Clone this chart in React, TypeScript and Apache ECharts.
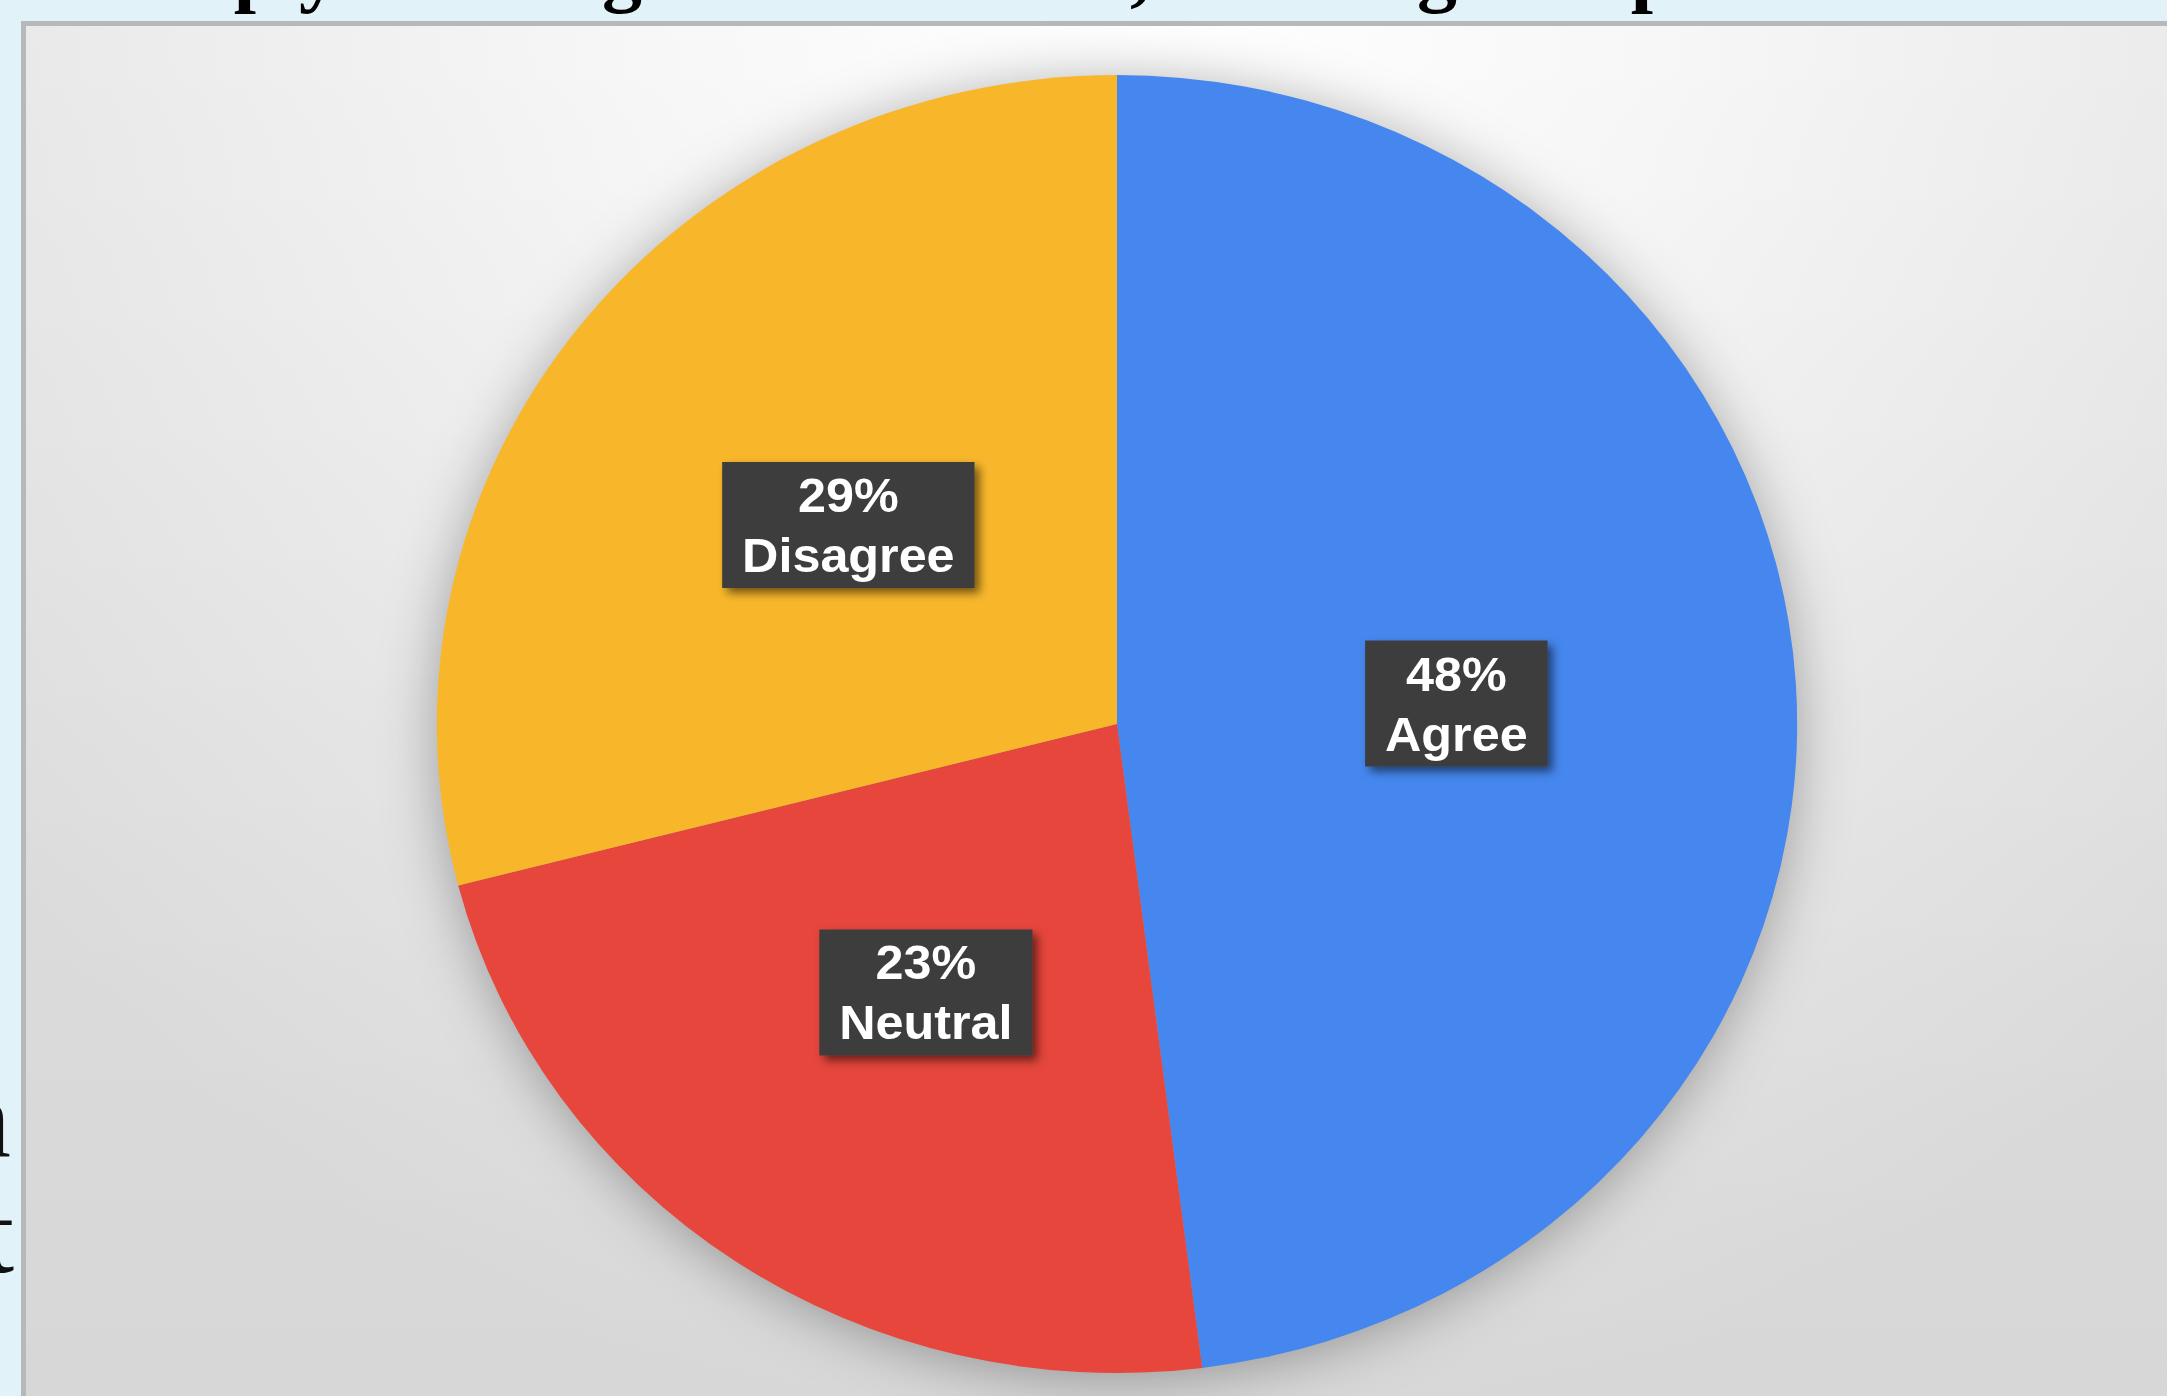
import React, { useEffect, useRef } from 'react';
import * as echarts from 'echarts';

// ---- data ----
const categories: string[] = ['Agree', 'Neutral', 'Disagree'];
const shares: number[] = [48, 23, 29];
const sliceColors: string[] = ['#4587EE', '#E6463B', '#F8B72B'];
// fragments of the slide text that peek out around the chart picture
const titleGlyphs: string[] = ['p', 'y', 'g', ',', 'g', 'p'];
const sideGlyphs: string[] = ['n', 't'];

// ---- layout ----
const W = 2167;
const H = 1396;
const CX = 1117;
const CY = 724;
const RY = 649;
const RX = 680;
const titleGlyphX = [256, 319, 622, 1140, 1437, 1653];
const sideGlyphPos = [
  { x: 11, y: 1119 },
  { x: 14, y: 1234 },
];

export default function App() {
  const ref = useRef<HTMLDivElement>(null);

  useEffect(() => {
    const el = ref.current;
    if (!el) return;
    const chart = echarts.init(el, undefined, { renderer: 'svg' });

    const total = shares.reduce((a, b) => a + b, 0);
    const starts: number[] = [];
    let acc = 0;
    shares.forEach((v) => {
      starts.push(acc);
      acc += v;
    });

    const graphicElements: any[] = [];
    // frame of the pasted chart picture
    graphicElements.push({
      type: 'rect',
      shape: { x: 21, y: 21, width: W, height: H },
      style: { fill: '#B5B9BA' },
    });
    graphicElements.push({
      type: 'rect',
      shape: { x: 26, y: 26, width: W, height: H },
      style: {
        fill: new echarts.graphic.RadialGradient(
          1150,
          0,
          1450,
          [
            { offset: 0, color: '#FFFFFF' },
            { offset: 0.35, color: '#F7F7F7' },
            { offset: 1, color: '#E2E2E2' },
          ],
          true
        ),
      },
    });
    graphicElements.push({
      type: 'rect',
      shape: { x: 26, y: 26, width: W, height: H },
      style: {
        fill: new echarts.graphic.LinearGradient(0, 0, 0, 1, [
          { offset: 0, color: 'rgba(0,0,0,0)' },
          { offset: 1, color: 'rgba(0,0,0,0.05)' },
        ]),
      },
    });
    titleGlyphs.forEach((g, i) => {
      graphicElements.push({
        type: 'text',
        x: titleGlyphX[i],
        y: -30,
        style: {
          text: g,
          font: 'bold 80px "Liberation Serif"',
          fill: '#000000',
          align: 'center',
          verticalAlign: 'middle',
          lineHeight: 60,
        },
      });
    });
    sideGlyphs.forEach((g, i) => {
      graphicElements.push({
        type: 'text',
        x: sideGlyphPos[i].x,
        y: sideGlyphPos[i].y,
        style: {
          text: g,
          font: '112px "Liberation Serif"',
          fill: '#111111',
          align: 'right',
          verticalAlign: 'middle',
          lineHeight: 100,
        },
      });
    });

    const option: any = {
      animation: false,
      backgroundColor: '#E1F3F8',
      graphic: { elements: graphicElements },
      series: [
        {
          type: 'custom',
          coordinateSystem: 'none',
          z: 5,
          data: categories.map((c, i) => ({ name: c, value: [shares[i], starts[i]] })),
          renderItem: (params: any, api: any) => {
            const i = params.dataIndex;
            const value = api.value(0) as number;
            const start = api.value(1) as number;
            const a0 = -Math.PI / 2 + (2 * Math.PI * start) / total;
            const a1 = -Math.PI / 2 + (2 * Math.PI * (start + value)) / total;
            const mid = (a0 + a1) / 2;
            const children: any[] = [];
            if (i === 0) {
              children.push({
                type: 'circle',
                z2: -5,
                shape: { cx: 0, cy: 0, r: RY - 3 },
                style: {
                  fill: '#9a9a9a',
                  shadowBlur: 60,
                  shadowColor: 'rgba(0,0,0,0.35)',
                  shadowOffsetX: 0,
                  shadowOffsetY: 6,
                },
              });
            }
            children.push({
              type: 'sector',
              z2: 1,
              shape: {
                cx: 0,
                cy: 0,
                r0: 0,
                r: RY,
                startAngle: a0,
                endAngle: a1,
                clockwise: true,
              },
              style: { fill: sliceColors[i] },
            });
            children.push({
              type: 'text',
              z2: 20,
              x: Math.cos(mid) * RY * 0.5,
              y: Math.sin(mid) * RY * 0.5,
              style: {
                text: `${value}%\n${categories[i]}`,
                fill: '#FFFFFF',
                font: 'bold 48px "Liberation Sans"',
                align: 'center',
                verticalAlign: 'middle',
                lineHeight: 60,
                backgroundColor: '#3C3C3C',
                padding: [3, 19, 3, 19],
                shadowBlur: 10,
                shadowColor: 'rgba(0,0,0,0.55)',
                shadowOffsetX: 5,
                shadowOffsetY: 5,
              },
            });
            return {
              type: 'group',
              x: CX,
              y: CY,
              scaleX: RX / RY,
              scaleY: 1,
              children,
            };
          },
        },
      ],
    };

    chart.setOption(option);
    return () => {
      chart.dispose();
    };
  }, []);

  return (
    <div
      ref={ref}
      style={{ position: 'fixed', left: 0, top: 0, width: W, height: H }}
    />
  );
}
